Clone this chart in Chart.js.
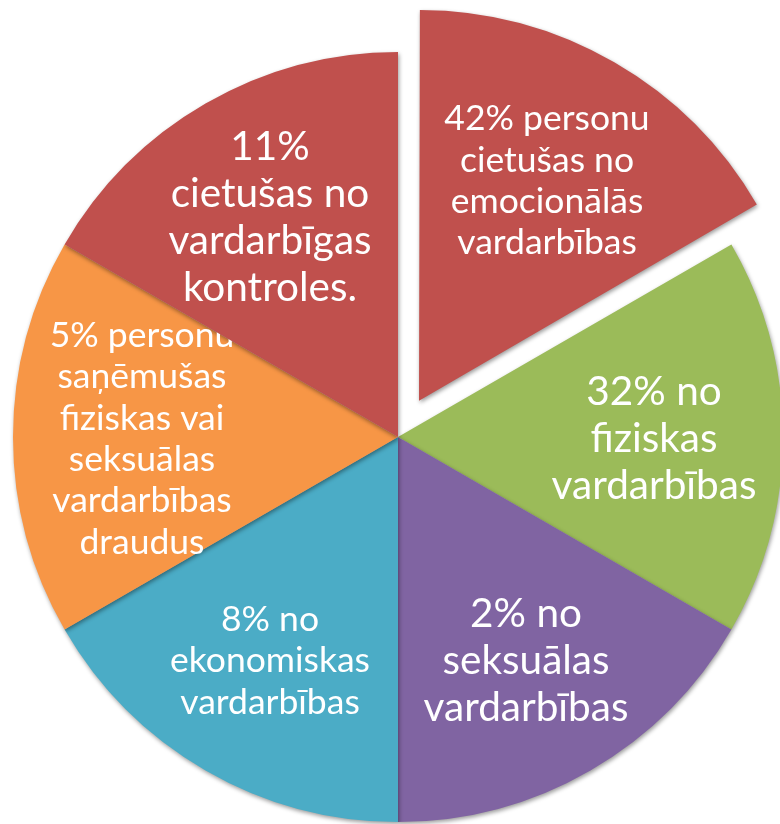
<!DOCTYPE html>
<html>
<head>
<meta charset="utf-8">
<script src="https://cdn.jsdelivr.net/npm/chart.js@4.4.0/dist/chart.umd.min.js"></script>
<style>
    html, body { margin: 0; padding: 0; background: #fff; }
    #wrap { width: 780px; height: 824px; }
</style>
</head>
<body>
<div id="wrap"><canvas id="pie"></canvas></div>
<script>
// values (clockwise from 12 o'clock)
const percents = [42, 32, 2, 8, 5, 11];
const labelLines = [
    ['42% personu', 'cietušas no', 'emocionālās', 'vardarbības'],
    ['32% no', 'fiziskas', 'vardarbības'],
    ['2% no', 'seksuālas', 'vardarbības'],
    ['8% no', 'ekonomiskas', 'vardarbības'],
    ['5% personu', 'saņēmušas', 'fiziskas vai', 'seksuālas', 'vardarbības', 'draudus'],
    ['11%', 'cietušas no', 'vardarbīgas', 'kontroles.']
];
// in the picture every slice has the same angle, whatever the percent says
const sliceValues = [1, 1, 1, 1, 1, 1];
const sliceColors = ['#C0504D', '#9BBB59', '#8064A2', '#4BACC6', '#F79646', '#C0504D'];
const labelSizes = [35.5, 40.5, 40.5, 35.5, 35.5, 40.5];

const sliceLabels = {
    id: 'sliceLabels',
    beforeDatasetsDraw(chart) {
        const ctx = chart.ctx;
        ctx.save();
        ctx.shadowColor = 'rgba(0, 0, 0, 0.4)';
        ctx.shadowBlur = 4;
        ctx.shadowOffsetX = 1;
        ctx.shadowOffsetY = 2;
    },
    afterDatasetsDraw(chart) {
        const ctx = chart.ctx;
        ctx.restore();
        const arcs = chart.getDatasetMeta(0).data;
        arcs.forEach((arc, i) => {
            const mid = (arc.startAngle + arc.endAngle) / 2;
            const shift = (arc.options.offset || 0) / 4;
            const r = arc.outerRadius * 0.665 + shift;
            const lx = arc.x + Math.cos(mid) * r;
            const ly = arc.y + Math.sin(mid) * r + 2;

            // slices drawn after this one cover its text
            ctx.save();
            ctx.beginPath();
            ctx.rect(0, 0, chart.width, chart.height);
            arcs.slice(i + 1).forEach(a => {
                ctx.moveTo(a.x, a.y);
                ctx.arc(a.x, a.y, a.outerRadius, a.startAngle, a.endAngle);
                ctx.closePath();
            });
            ctx.clip('evenodd');

            const size = labelSizes[i];
            const lh = size * 1.165;
            const lines = labelLines[i];
            ctx.font = size + 'px Lato';
            ctx.fillStyle = '#ffffff';
            ctx.textAlign = 'center';
            ctx.textBaseline = 'middle';
            lines.forEach((t, k) => {
                ctx.fillText(t, lx, ly + (k - (lines.length - 1) / 2) * lh);
            });
            ctx.restore();
        });
    }
};

new Chart(document.getElementById('pie'), {
    type: 'pie',
    data: {
        labels: labelLines.map(l => l.join(' ')),
        datasets: [{
            data: sliceValues,
            backgroundColor: sliceColors,
            borderWidth: 0,
            offset: [168, 0, 0, 0, 0, 0],
            radius: 385
        }]
    },
    options: {
        responsive: true,
        maintainAspectRatio: false,
        animation: false,
        layout: { padding: { left: 16, top: 50 } },
        plugins: {
            legend: { display: false },
            tooltip: { enabled: false }
        }
    },
    plugins: [sliceLabels]
});
</script>
</body>
</html>
